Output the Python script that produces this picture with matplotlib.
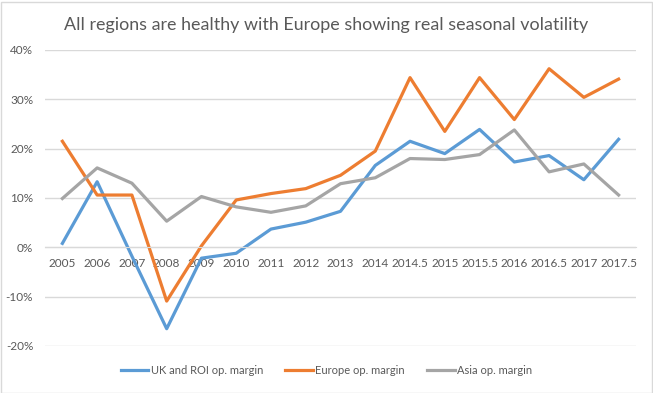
import matplotlib.pyplot as plt
from matplotlib.patches import Rectangle
from matplotlib.ticker import FuncFormatter

plt.rcParams['font.family'] = ['Lato', 'DejaVu Sans']

years = ['2005', '2006', '2007', '2008', '2009', '2010', '2011', '2012', '2013',
         '2014', '2014.5', '2015', '2015.5', '2016', '2016.5', '2017', '2017.5']
uk_roi = [0.8, 13.3, -1.8, -16.5, -2.2, -1.2, 3.7, 5.1, 7.3,
          16.6, 21.5, 19.0, 23.9, 17.3, 18.6, 13.7, 21.9]
europe = [21.5, 10.6, 10.6, -10.9, 0.3, 9.6, 10.9, 11.9, 14.6,
          19.5, 34.4, 23.5, 34.4, 25.9, 36.2, 30.4, 34.1]
asia = [9.9, 16.1, 13.0, 5.3, 10.3, 8.2, 7.1, 8.4, 12.9,
        14.1, 18.0, 17.8, 18.8, 23.8, 15.3, 16.9, 10.6]

txt = '#595959'
grid = '#D9D9D9'

fig = plt.figure(figsize=(6.53, 3.93), dpi=100)
ax = fig.add_axes([45/653, 1 - 346/393, 591/653, 296/393])

x = list(range(len(years)))
ax.plot(x, uk_roi, color='#5B9BD5', lw=2.3, label='UK and ROI op. margin')
ax.plot(x, europe, color='#ED7D31', lw=2.3, label='Europe op. margin')
ax.plot(x, asia, color='#A5A5A5', lw=2.3, label='Asia op. margin')

ax.set_xlim(-0.5, len(years) - 0.5)
ax.set_ylim(-20, 40)
ax.set_yticks(range(-20, 41, 10))
ax.yaxis.set_major_formatter(FuncFormatter(lambda v, p: f'{v:.0f}%'))
ax.set_xticks(x)
ax.set_xticklabels(years)
ax.grid(axis='y', color=grid, lw=1)
ax.set_axisbelow(True)
for s in ['top', 'right', 'left']:
    ax.spines[s].set_visible(False)
ax.spines['bottom'].set_position(('data', 0))
ax.spines['bottom'].set_color(grid)
ax.tick_params(axis='both', length=0, labelsize=8.5, colors=txt)
ax.tick_params(axis='x', pad=8)
ax.tick_params(axis='y', pad=8.5)

fig.text(0.5, 1 - 30/393, 'All regions are healthy with Europe showing real seasonal volatility',
         ha='center', va='baseline', fontsize=12.9, color=txt)

ax.legend(loc='center', bbox_to_anchor=(0.5, 0.0567), bbox_transform=fig.transFigure,
          ncol=3, frameon=False, fontsize=8, handlelength=2.5, handletextpad=0.2,
          columnspacing=2.0, labelcolor=txt)

fig.add_artist(Rectangle((0.5/653, 0.5/393), 651/653, 391/393, transform=fig.transFigure,
                         fill=False, edgecolor=grid, lw=1))

fig.savefig('out.png', dpi=100)
